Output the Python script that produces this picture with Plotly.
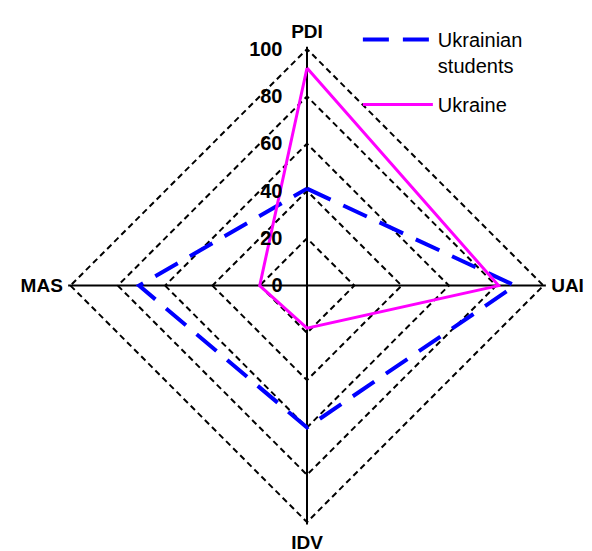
import plotly.graph_objects as go

dims = ["PDI", "UAI", "IDV", "MAS"]
students = [41, 88, 60, 71]
ukraine = [92, 81, 18, 20]
radial_ticks = [0, 20, 40, 60, 80, 100]

W, H = 592, 551
cx, cy, R = 306.5 - 7.5, 284.3 - 6.7, 236.5 * 1.01

fig = go.Figure()
fig.add_trace(go.Scatterpolar(
    r=students + students[:1], theta=dims + dims[:1],
    mode="lines", name="Ukrainian<br>students", legendgroup="a",
    line=dict(color="#0000FF", width=4, dash="26px,14px"),
))
fig.add_trace(go.Scatterpolar(
    r=ukraine + ukraine[:1], theta=dims + dims[:1],
    mode="lines", name="Ukraine", legendgroup="b",
    line=dict(color="#FF00FF", width=3),
))

fig.update_layout(
    width=W, height=H,
    margin=dict(l=0, r=0, t=0, b=0),
    paper_bgcolor="white", plot_bgcolor="white",
    font=dict(family="Liberation Sans, Arial", size=20, color="black"),
    polar=dict(
        domain=dict(x=[(cx - R) / W, (cx + R) / W], y=[1 - (cy + R) / H, 1 - (cy - R) / H]),
        bgcolor="white",
        gridshape="linear",
        radialaxis=dict(
            range=[0, 101], tickvals=radial_ticks, angle=90, tickangle=90,
            showline=False, gridcolor="black", gridwidth=2, griddash="6px,4px",
            tickfont=dict(family="Liberation Sans, Arial", size=20, color="black", weight="bold"),
            side="counterclockwise", ticks="outside", ticklen=17, tickcolor="rgba(0,0,0,0)",
        ),
        angularaxis=dict(
            direction="clockwise", rotation=90,
            categoryarray=dims, categoryorder="array",
            showline=False, gridcolor="black", gridwidth=2,
            ticks="outside", ticklen=1, tickcolor="rgba(0,0,0,0)",
            tickfont=dict(family="Liberation Sans, Arial", size=19, color="black", weight="bold"),
        ),
    ),
    legend=dict(
        x=0.591, y=0.978, xanchor="left", yanchor="top",
        valign="top", bgcolor="rgba(0,0,0,0)", traceorder="grouped",
        font=dict(family="Liberation Sans, Arial", size=20, color="black"),
        itemwidth=70, tracegroupgap=10,
    ),
)

fig.write_html("out.html")
